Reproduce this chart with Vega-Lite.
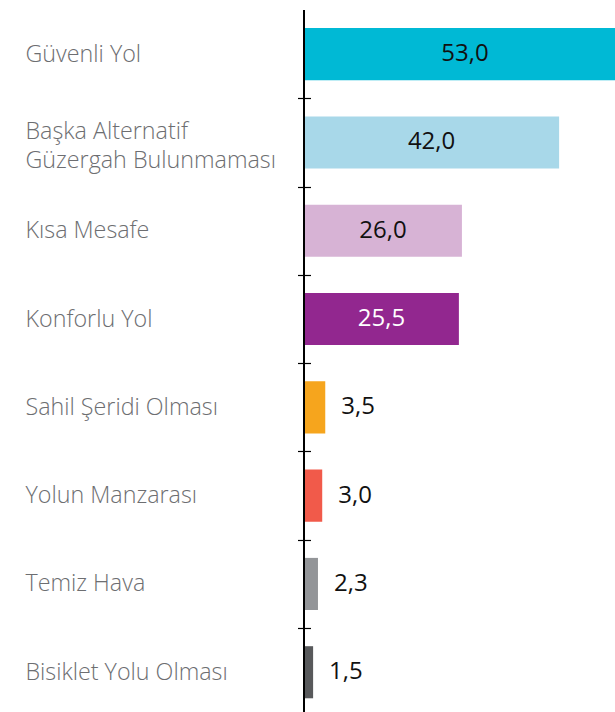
{
  "$schema": "https://vega.github.io/schema/vega-lite/v6.json",
  "autosize": {"type": "none"},
  "padding": {"left": 304, "top": 10, "right": 0, "bottom": 0},
  "width": 311,
  "height": 706.4,
  "background": "white",
  "config": {
    "view": {"stroke": null},
    "locale": {"number": {"decimal": ",", "thousands": ".", "grouping": [3], "currency": ["", " ₺"]}}
  },
  "data": {
    "values": [
      {"cat": "Güvenli Yol", "value": 53.0},
      {"cat": "Başka Alternatif|Güzergah Bulunmaması", "value": 42.0},
      {"cat": "Kısa Mesafe", "value": 26.0},
      {"cat": "Konforlu Yol", "value": 25.5},
      {"cat": "Sahil Şeridi Olması", "value": 3.5},
      {"cat": "Yolun Manzarası", "value": 3.0},
      {"cat": "Temiz Hava", "value": 2.3},
      {"cat": "Bisiklet Yolu Olması", "value": 1.5}
    ]
  },
  "transform": [{"calculate": "datum.value / 2", "as": "mid"}],
  "layer": [
    {
      "mark": {"type": "bar"},
      "encoding": {
        "y": {
          "field": "cat", "type": "nominal", "sort": null,
          "scale": {"paddingInner": 0.41, "paddingOuter": 0.205},
          "axis": {
            "title": null,
            "orient": "left",
            "domain": false,
            "offset": -6.5,
            "tickSize": 13,
            "tickColor": "#000000",
            "tickWidth": 1.2,
            "tickOffset": 44.15,
            "labelOffset": {"condition": {"test": "indexof(datum.value, '|') >= 0", "value": -55.5}, "value": -44.15},
            "labelAlign": "left",
            "labelBaseline": "middle",
            "labelPadding": 272.5,
            "labelLimit": 0,
            "labelFont": "Open Sans",
            "labelFontWeight": 300,
            "labelFontSize": 23.3,
            "labelColor": "#6d6e71",
            "labelLineHeight": 29,
            "labelExpr": "split(datum.label, '|')"
          }
        },
        "x": {
          "field": "value", "type": "quantitative",
          "scale": {"domain": [0, 51.2], "nice": false, "zero": true},
          "axis": null
        },
        "color": {
          "field": "cat", "type": "nominal", "legend": null,
          "scale": {
            "domain": ["Güvenli Yol", "Başka Alternatif|Güzergah Bulunmaması", "Kısa Mesafe", "Konforlu Yol", "Sahil Şeridi Olması", "Yolun Manzarası", "Temiz Hava", "Bisiklet Yolu Olması"],
            "range": ["#00b9d5", "#a8d8e9", "#d7b3d5", "#92278f", "#f6a51d", "#f15a4a", "#939598", "#58595b"]
          }
        }
      }
    },
    {
      "transform": [{"filter": "datum.value >= 20"}],
      "mark": {"type": "text", "align": "center", "baseline": "middle", "font": "Open Sans", "fontSize": 24},
      "encoding": {
        "y": {"field": "cat", "type": "nominal", "sort": null},
        "x": {"field": "mid", "type": "quantitative"},
        "text": {"field": "value", "type": "quantitative", "format": ".1f"},
        "color": {
          "condition": {"test": "datum.cat == 'Konforlu Yol'", "value": "#ffffff"},
          "value": "#111111"
        }
      }
    },
    {
      "transform": [{"filter": "datum.value < 20"}],
      "mark": {"type": "text", "align": "left", "baseline": "middle", "dx": 16, "font": "Open Sans", "fontSize": 24, "color": "#111111"},
      "encoding": {
        "y": {"field": "cat", "type": "nominal", "sort": null},
        "x": {"field": "value", "type": "quantitative"},
        "text": {"field": "value", "type": "quantitative", "format": ".1f"}
      }
    },
    {
      "mark": {"type": "rule", "color": "#000000", "strokeWidth": 1.3},
      "encoding": {"x": {"datum": 0}}
    }
  ]
}
